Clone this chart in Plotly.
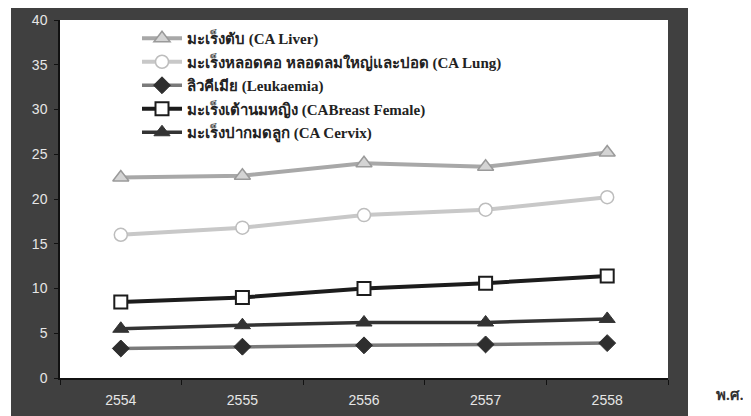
import plotly.graph_objects as go

years = ["2554", "2555", "2556", "2557", "2558"]
liver = [22.4, 22.6, 24.0, 23.6, 25.2]
lung = [16.0, 16.8, 18.2, 18.8, 20.2]
leukaemia = [3.3, 3.5, 3.65, 3.75, 3.9]
breast = [8.5, 9.0, 10.0, 10.6, 11.4]
cervix = [5.5, 5.9, 6.2, 6.2, 6.6]

names = [
    "มะเร็งตับ (CA Liver)",
    "มะเร็งหลอดคอ หลอดลมใหญ่และปอด (CA Lung)",
    "ลิวคีเมีย (Leukaemia)",
    "มะเร็งเต้านมหญิง (CABreast Female)",
    "มะเร็งปากมดลูก (CA Cervix)",
]

# page body has an 8px margin; figure coordinates = screen - 8
OFF = 8
W, H = 751 - OFF, 416 - OFF
L, R, T, B = 60 - OFF, 668 - OFF, 20 - OFF, 378 - OFF
pw, ph = R - L, B - T

def px(x):
    return (x - OFF - L) / pw

def py(y):
    return (B - (y - OFF)) / ph

fig = go.Figure()
fig.add_trace(go.Scatter(x=years, y=liver, name="<b>" + names[0] + "</b>", mode="lines+markers", legendgroup="a",
    line=dict(color="#a8a8a8", width=4),
    marker=dict(symbol="triangle-up", size=14, color="#d4d4d4", line=dict(color="#9a9a9a", width=1.5))))
fig.add_trace(go.Scatter(x=years, y=lung, name="<b>" + names[1] + "</b>", mode="lines+markers", legendgroup="b",
    line=dict(color="#c8c8c8", width=4),
    marker=dict(symbol="circle", size=13, color="#ffffff", line=dict(color="#bdbdbd", width=1.5))))
fig.add_trace(go.Scatter(x=years, y=leukaemia, name="<b>" + names[2] + "</b>", mode="lines+markers", legendgroup="c",
    line=dict(color="#7a7a7a", width=3.5),
    marker=dict(symbol="diamond", size=13, color="#2e2e2e", line=dict(color="#2e2e2e", width=1))))
fig.add_trace(go.Scatter(x=years, y=breast, name="<b>" + names[3] + "</b>", mode="lines+markers", legendgroup="d",
    line=dict(color="#1c1c1c", width=4),
    marker=dict(symbol="square", size=13, color="#ffffff", line=dict(color="#1c1c1c", width=2))))
fig.add_trace(go.Scatter(x=years, y=cervix, name="<b>" + names[4] + "</b>", mode="lines+markers", legendgroup="e",
    line=dict(color="#333333", width=3.5),
    marker=dict(symbol="triangle-up", size=14, color="#333333", line=dict(color="#333333", width=1))))

shapes = [
    dict(type="rect", xref="paper", yref="paper", x0=px(0), x1=px(11), y0=py(430), y1=py(0),
         fillcolor="white", line=dict(width=0), layer="below"),
    dict(type="rect", xref="paper", yref="paper", x0=px(688), x1=px(760), y0=py(430), y1=py(0),
         fillcolor="white", line=dict(width=0), layer="below"),
]

fig.update_layout(
    width=W, height=H,
    margin=dict(l=L, r=W - R, t=T, b=H - B, pad=0, autoexpand=False),
    paper_bgcolor="#404040",
    plot_bgcolor="#ffffff",
    shapes=shapes,
    showlegend=True,
    legend=dict(x=px(137), y=py(22), xanchor="left", yanchor="top",
                bgcolor="rgba(0,0,0,0)", borderwidth=0, tracegroupgap=1,
                font=dict(family="Liberation Serif, Noto Serif, serif", size=15, color="#222222"),
                itemwidth=40),
    xaxis=dict(type="category", showgrid=False, showline=True, linecolor="#111111", linewidth=1.5,
               ticks="outside", tickson="boundaries", ticklen=5, tickcolor="#111111",
               ticklabelstandoff=8, automargin=False,
               tickfont=dict(family="Liberation Sans Narrow, Liberation Sans, Arial, sans-serif", size=14, color="#e6e6e6"),
               range=[-0.5, 4.5], fixedrange=True),
    yaxis=dict(range=[0, 40], dtick=5, showgrid=False, showline=True, linecolor="#111111", linewidth=1.5,
               ticks="outside", ticklen=4, tickcolor="#111111", zeroline=False,
               ticklabelstandoff=4, automargin=False,
               tickfont=dict(family="Liberation Sans Narrow, Liberation Sans, Arial, sans-serif", size=14, color="#e6e6e6")),
    annotations=[dict(text="<b>พ.ศ.</b>", xref="paper", yref="paper", x=px(714), y=py(395),
                      showarrow=False, xanchor="left", yanchor="middle",
                      font=dict(family="Liberation Serif, serif", size=15, color="#333333"))],
)

fig.write_html("out.html")
